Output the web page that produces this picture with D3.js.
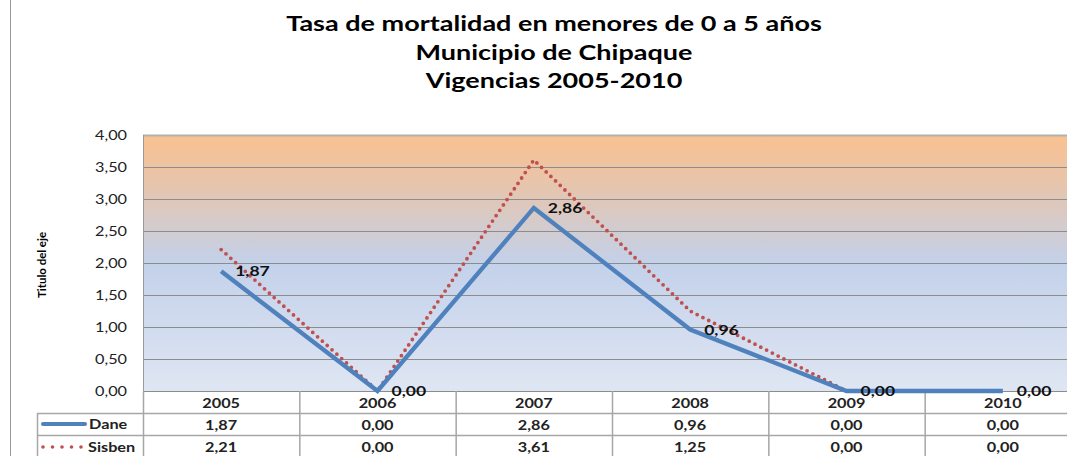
<!DOCTYPE html>
<html>
<head>
<meta charset="utf-8">
<script src="https://cdn.jsdelivr.net/npm/d3@7"></script>
<style>
  body { margin: 0; background: #fff; }
  svg { display: block; font-family: Lato, "Open Sans", sans-serif; }
</style>
</head>
<body>
<svg></svg>
<script>
// chart data
let years = ["2005", "2006", "2007", "2008", "2009", "2010"];
let dane = [1.87, 0.00, 2.86, 0.96, 0.00, 0.00];
let sisben = [2.21, 0.00, 3.61, 1.25, 0.00, 0.00];
let yTicks = [0, 0.5, 1, 1.5, 2, 2.5, 3, 3.5, 4];
let titleLines = ["Tasa de mortalidad en menores de 0 a 5 años", "Municipio de Chipaque", "Vigencias 2005-2010"];

let width = 1067;
let height = 456;
let plot = { left: 143, top: 135, right: 1081, bottom: 391 };
let rowH = 22;
// the original picture is a bit wider than tall, so text is stretched sideways
let stretch = 1.3;

let fmt = v => v.toFixed(2).replace(".", ",");

let svg = d3.select("svg").attr("width", width).attr("height", height);

// outer chart border (left side)
svg.append("line")
   .attr("x1", 10.5).attr("x2", 10.5)
   .attr("y1", 0).attr("y2", height)
   .attr("stroke", "#9a9a9a");

// title
svg.append("text")
   .attr("class", "title")
   .attr("x", 554)
   .attr("y", 31)
   .attr("text-anchor", "middle")
   .attr("font-weight", "bold")
   .attr("font-size", 20)
   .selectAll("tspan")
   .data(titleLines)
   .enter()
   .append("tspan")
   .attr("x", 554)
   .attr("dy", (d, i) => i == 0 ? 0 : 28.5)
   .text(d => d);

// scales
let xScale = d3.scaleBand()
               .domain(years)
               .range([plot.left, plot.right]);

let yScale = d3.scaleLinear()
               .domain([0, 4])
               .range([plot.bottom, plot.top]);

// background gradient
let defs = svg.append("defs");
let grad = defs.append("linearGradient")
               .attr("id", "bg")
               .attr("x1", 0).attr("y1", 0).attr("x2", 0).attr("y2", 1);
grad.append("stop").attr("offset", "0%").attr("stop-color", "#fac18f");
grad.append("stop").attr("offset", "20%").attr("stop-color", "#e6c5ae");
grad.append("stop").attr("offset", "50%").attr("stop-color", "#c3d1ea");
grad.append("stop").attr("offset", "100%").attr("stop-color", "#dfe6f3");

svg.append("rect")
   .attr("x", plot.left)
   .attr("y", plot.top)
   .attr("width", plot.right - plot.left)
   .attr("height", plot.bottom - plot.top)
   .attr("fill", "url(#bg)");

// gridlines
svg.append("g")
   .selectAll("line")
   .data(yTicks)
   .enter()
   .append("line")
   .attr("x1", plot.left)
   .attr("x2", plot.right)
   .attr("y1", d => Math.round(yScale(d)) + 0.5)
   .attr("y2", d => Math.round(yScale(d)) + 0.5)
   .attr("stroke", d => d == 4 ? "#b0b0b0" : "#8c8c8c")
   .attr("stroke-width", d => d == 4 ? 2 : 1);

// plot left border
svg.append("line")
   .attr("x1", plot.left + 0.5).attr("x2", plot.left + 0.5)
   .attr("y1", plot.top).attr("y2", plot.bottom)
   .attr("stroke", "#9a9a9a");

// y axis
let yAxis = d3.axisLeft(yScale)
              .tickValues(yTicks)
              .tickFormat(fmt)
              .tickSize(0)
              .tickPadding(16);

svg.append("g")
   .attr("id", "y-axis")
   .attr("transform", `translate(${plot.left}, 0)`)
   .call(yAxis)
   .call(g => g.select(".domain").remove())
   .selectAll("text")
   .attr("font-family", "Lato, sans-serif")
   .attr("font-size", 12.5)
   .attr("fill", "#222");

svg.append("text")
   .attr("class", "nostretch")
   .attr("transform", "translate(46, 265) rotate(-90)")
   .attr("text-anchor", "middle")
   .attr("font-weight", "bold")
   .attr("font-size", 11)
   .attr("font-family", "'Liberation Sans Narrow', Lato, sans-serif")
   .attr("textLength", 66)
   .attr("lengthAdjust", "spacingAndGlyphs")
   .text("Titulo del eje");

// data table
let table = svg.append("g").attr("id", "table");
let grid = "#a6a6a6";

// horizontal lines
[plot.bottom + rowH, plot.bottom + 2 * rowH].forEach(y => {
  table.append("line")
       .attr("x1", 37).attr("x2", width)
       .attr("y1", y + 0.5).attr("y2", y + 0.5)
       .attr("stroke", grid).attr("stroke-width", 1.5);
});
table.append("line")
     .attr("x1", 37.5).attr("x2", 37.5)
     .attr("y1", plot.bottom + rowH).attr("y2", height)
     .attr("stroke", grid).attr("stroke-width", 1.5);

// column separators
table.selectAll(".col")
     .data(years)
     .enter()
     .append("line")
     .attr("class", "col")
     .attr("x1", d => xScale(d) + 0.5)
     .attr("x2", d => xScale(d) + 0.5)
     .attr("y1", plot.bottom)
     .attr("y2", height)
     .attr("stroke", grid).attr("stroke-width", 1.5);

let cellText = (values, y) => {
  table.append("g")
       .selectAll("text")
       .data(values)
       .enter()
       .append("text")
       .attr("x", (d, i) => xScale(years[i]) + xScale.bandwidth() / 2)
       .attr("y", y)
       .attr("text-anchor", "middle")
       .attr("font-weight", "bold")
       .attr("font-size", 12.5)
       .attr("fill", "#222")
       .text(d => d);
};
cellText(years, plot.bottom + 17);
cellText(dane.map(fmt), plot.bottom + rowH + 17);
cellText(sisben.map(fmt), plot.bottom + 2 * rowH + 17);

// legend keys
let keyY1 = plot.bottom + rowH + 11;
let keyY2 = plot.bottom + 2 * rowH + 12;
table.append("line")
     .attr("x1", 43).attr("x2", 85)
     .attr("y1", keyY1).attr("y2", keyY1)
     .attr("stroke", "#4f81bd").attr("stroke-width", 4)
     .attr("stroke-linecap", "round");
table.append("line")
     .attr("x1", 43).attr("x2", 85)
     .attr("y1", keyY2).attr("y2", keyY2)
     .attr("stroke", "#c0504d").attr("stroke-width", 3.6)
     .attr("stroke-linecap", "round")
     .attr("stroke-dasharray", "0 9.5");
table.append("text")
     .attr("x", 89).attr("y", plot.bottom + rowH + 16)
     .attr("font-weight", "bold").attr("font-size", 12.5).attr("fill", "#222")
     .text("Dane");
table.append("text")
     .attr("x", 88).attr("y", plot.bottom + 2 * rowH + 17)
     .attr("font-weight", "bold").attr("font-size", 12.5).attr("fill", "#222")
     .text("Sisben");

// lines
let line = d3.line()
             .x((d, i) => xScale(years[i]) + xScale.bandwidth() / 2)
             .y(d => yScale(d));

svg.append("path")
   .datum(sisben)
   .attr("d", line)
   .attr("fill", "none")
   .attr("stroke", "#c0504d")
   .attr("stroke-width", 3.8)
   .attr("stroke-linecap", "round")
   .attr("stroke-dasharray", "0 6.5");

svg.append("path")
   .datum(dane)
   .attr("d", line)
   .attr("fill", "none")
   .attr("stroke", "#4f81bd")
   .attr("stroke-width", 4.3)
   .attr("stroke-linejoin", "miter");

// data labels (Dane)
svg.append("g")
   .selectAll("text")
   .data(dane)
   .enter()
   .append("text")
   .attr("x", (d, i) => xScale(years[i]) + xScale.bandwidth() / 2 + 14)
   .attr("y", d => yScale(d) + 5)
   .attr("font-weight", "bold")
   .attr("font-size", 13.5)
   .attr("fill", "#111")
   .text(d => fmt(d));

// widen the text the same way the picture is widened
svg.selectAll("text:not(.nostretch):not(.title), .title tspan").each(function () {
  let len = this.getComputedTextLength();
  d3.select(this)
    .attr("textLength", len * (this.tagName == "tspan" ? 1.35 : stretch))
    .attr("lengthAdjust", "spacingAndGlyphs");
});
</script>
</body>
</html>
